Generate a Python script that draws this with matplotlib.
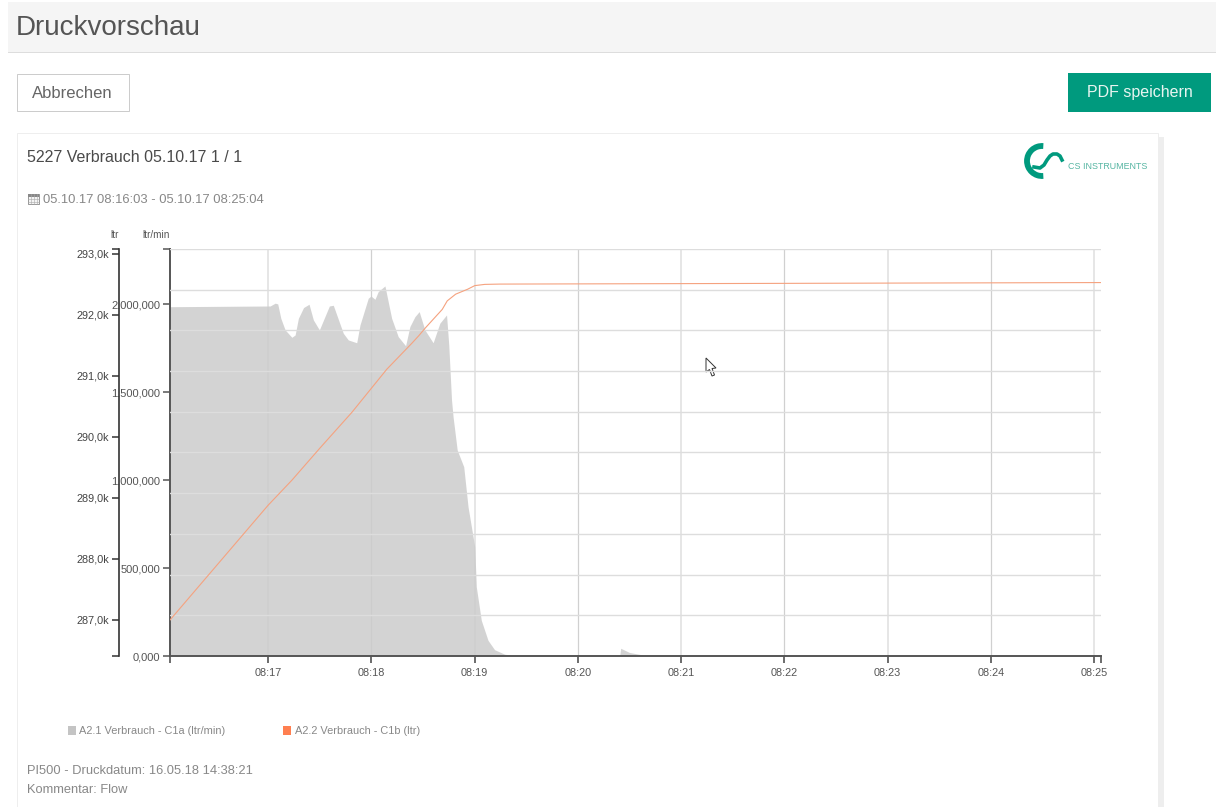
# %% Pakete

import numpy as np
import matplotlib
matplotlib.use('Agg')
import matplotlib.pyplot as plt
from matplotlib.patches import Rectangle, Arc, Polygon

plt.rcParams['font.family'] = ['Liberation Sans', 'DejaVu Sans']

# %% Daten (Sekunden nach 08:16:00)

t_flow = [3, 61.2, 64.1, 65.6, 67.4, 69.9, 73.8, 75.7, 77.6, 80.6, 83.8, 86.3, 89.8,
          95.6, 97.9, 103.7, 106.6, 111.5, 113.4, 118.2, 119.8, 122.1, 124, 127.9,
          131.8, 135.6, 139.9, 142.4, 145.3, 147.8, 151.1, 155.9, 159.8, 163.7, 165,
          166.6, 167.5, 169.9, 173.7, 176.2, 180.1, 181, 183.9, 187.8, 191.6, 197.5,
          206.2, 264.3, 264.9, 270, 278.8, 290.4, 544]
flow = [1986, 1990, 2006, 2002, 1920, 1854, 1812, 1825, 1920, 1981, 2000, 1911, 1854,
        1990, 1994, 1835, 1797, 1781, 1882, 2034, 2047, 2028, 2072, 2104,
        1920, 1816, 1764, 1873, 1929, 1958, 1854, 1781, 1892, 1939, 1768,
        1455, 1360, 1171, 1076, 848, 620, 393, 203, 89, 36, 10,
        0, 0, 44, 20, 4, 0, 0]
flow = [v*1000 for v in flow]

t_ltr = [3, 60, 73.8, 90.2, 108.6, 129, 143.7, 147.6, 151.5, 161.2, 164.1, 169,
         175.9, 180.1, 185.9, 194.6, 544]
ltr = [287.0, 288.88, 289.29, 289.82, 290.40, 291.11, 291.54, 291.66, 291.79, 292.09,
       292.23, 292.34, 292.42, 292.48, 292.50, 292.505, 292.53]

x_ticks = [60, 120, 180, 240, 300, 360, 420, 480, 540]
x_labels = ['08:17', '08:18', '08:19', '08:20', '08:21', '08:22', '08:23', '08:24', '08:25']

flow_ticks = [0, 500000, 1000000, 1500000, 2000000]
flow_labels = ['0,000', '500,000', '1.000,000', '1.500,000', '2.000,000']

ltr_ticks = [287, 288, 289, 290, 291, 292, 293]
ltr_labels = ['287,0k', '288,0k', '289,0k', '290,0k', '291,0k', '292,0k', '293,0k']

legend_names = ['A2.1 Verbrauch - C1a (ltr/min)', 'A2.2 Verbrauch - C1b (ltr)']

# %% Seite

W, H = 1216, 807
fig = plt.figure('Druckvorschau', figsize=(W/100, H/100), dpi=100)

page = fig.add_axes([0, 0, 1, 1])
page.set_xlim(0, W)
page.set_ylim(H, 0)
page.axis('off')


def box(x0, y0, x1, y1, fc, ec='none', lw=0.72):
    page.add_patch(Rectangle((x0, y0), x1-x0, y1-y0, fc=fc, ec=ec, lw=lw))


box(8, 2, W, 52, '#f5f5f5')
page.plot([8, W], [52, 52], color='#dddddd', lw=0.72)
page.text(16, 28, 'Druckvorschau', fontsize=20, color='#555555', va='center')

box(16.5, 73.5, 129, 111, 'white', '#cccccc')
page.text(72.5, 93, 'Abbrechen', fontsize=12, color='#666666', ha='center', va='center')
box(1068, 73, 1211, 112, '#009a7e')
page.text(1139.5, 93, 'PDF speichern', fontsize=11.5, color='#e8f5f1', ha='center', va='center')

# Karte
box(1158, 137, 1164, H, '#eeeeee')
box(16.5, 132.5, 1158, H+5, 'white', '#eeeeee')
page.text(27, 158, '5227 Verbrauch 05.10.17 1 / 1', fontsize=11.5, color='#4a4a4a', va='center')

# Kalender Symbol
box(28, 194, 39, 204, '#f4f4f4', '#888888', 0.6)
box(28, 194, 39, 197, '#888888')
for gx in [31, 34, 37]:
    page.plot([gx, gx], [194, 204], color='#aaaaaa', lw=0.4)
for gy in [199, 201.5]:
    page.plot([28, 39], [gy, gy], color='#aaaaaa', lw=0.4)
page.text(43, 200, '05.10.17 08:16:03 - 05.10.17 08:25:04', fontsize=9.4, color='#888888', va='center')

# Logo
logo_green = '#009a7e'
page.add_patch(Arc((1042, 161), 30, 30, theta1=85, theta2=275, lw=4.2, color=logo_green))
s_x = np.array([1034, 1040, 1044, 1047, 1050, 1053, 1057, 1060, 1062])
s_y = np.array([167, 168, 165, 160, 156, 154, 154, 156, 160])
page.plot(s_x, s_y, color=logo_green, lw=2.6)
page.text(1068, 166.5, 'CS INSTRUMENTS', fontsize=6.4, color='#55b5a2', va='center')

# Legende und Fusszeile
box(68, 726, 76, 735, '#c4c4c4')
page.text(79, 731.5, legend_names[0], fontsize=7.95, color='#888888', va='center')
box(283, 726, 291, 735, '#ff7f50')
page.text(295, 731.5, legend_names[1], fontsize=7.95, color='#888888', va='center')
page.text(27, 770.5, 'PI500 - Druckdatum: 16.05.18 14:38:21', fontsize=9.3, color='#888888', va='center')
page.text(27, 790, 'Kommentar: Flow', fontsize=9.3, color='#888888', va='center')

# %% Diagramm

left, right, top, bottom = 170, 1101, 249, 656
ax = fig.add_axes([left/W, 1-bottom/H, (right-left)/W, (bottom-top)/H])
ax.patch.set_visible(False)
ax.set_xlim(3, 544)
ax.set_ylim(0, 2314000)

ax2 = ax.twinx()
ax2.patch.set_visible(False)
ltr_min, ltr_max = 286.41, 293.08
ax2.set_ylim(ltr_min, ltr_max)

# Gitter
for gy in np.linspace(ltr_min, ltr_max, 11)[1:]:
    ax2.axhline(gy, color='#dddddd', lw=1.0, zorder=0)
for i, tx in enumerate(x_ticks):
    ax.axvline(tx, color='#e6e6e6' if i % 2 == 0 else '#d0d0d0', lw=1.4 if i % 2 == 0 else 0.9, zorder=0)

ax.fill_between(t_flow, flow, 0, color='#cccccc', alpha=0.85, lw=0, zorder=2)
ax2.plot(t_ltr, ltr, color='#f5a27f', lw=0.8, zorder=3)

ax.set_xticks(x_ticks)
ax.set_xticklabels(x_labels)
ax.set_xticks([3, 544], minor=True)
ax.set_yticks(flow_ticks)
ax.set_yticklabels(flow_labels)
ax.set_yticks([2314000], minor=True)
ax.tick_params(axis='x', which='both', length=5, width=1.1, color='#444444', labelsize=7.8,
               labelcolor='#555555', pad=4)
ax.tick_params(axis='y', which='both', length=5, width=1.1, color='#555555', labelsize=8,
               labelcolor='#555555', pad=2)

ax2.yaxis.set_ticks_position('left')
ax2.yaxis.set_label_position('left')
ax2.set_yticks(ltr_ticks)
ax2.set_yticklabels(ltr_labels)
ax2.set_yticks([ltr_min, ltr_max], minor=True)
ax2.tick_params(axis='y', which='both', length=5, width=1.1, color='#333333', labelsize=7.8,
                labelcolor='#444444', pad=2)

for a in [ax, ax2]:
    a.spines['top'].set_visible(False)
    a.spines['right'].set_visible(False)
ax.spines['left'].set(color='#555555', lw=1.4)
ax.spines['bottom'].set(color='#555555', lw=1.4)
ax2.spines['bottom'].set_visible(False)
ax2.spines['left'].set(color='#333333', lw=1.2, position=('outward', 51*0.72))

page.text(114.5, 235, 'ltr', fontsize=7.2, color='#555555', ha='center', va='center')
page.text(156, 235, 'ltr/min', fontsize=7.2, color='#555555', ha='center', va='center')

# Mauszeiger
page.add_patch(Polygon([(706, 358), (706, 372), (709.5, 369.5), (712, 376), (714.5, 375),
                        (712, 368.5), (716, 368)], closed=True, fc='white', ec='#333333', lw=0.7,
                       zorder=10))
page.set_zorder(0)
ax.set_zorder(1)
ax2.set_zorder(2)

fig.savefig('out.png', dpi=100)
